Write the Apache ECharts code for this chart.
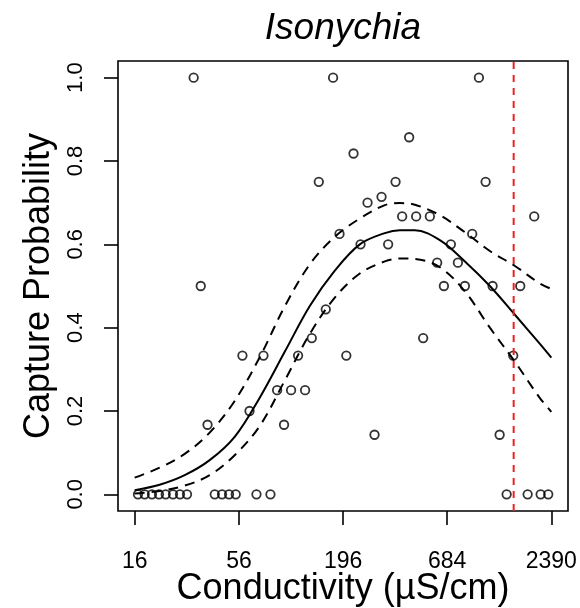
<!DOCTYPE html>
<html><head><meta charset="utf-8">
<script src="https://cdn.jsdelivr.net/npm/echarts@6/dist/echarts.min.js"></script>
<style>html,body{margin:0;padding:0;background:#fff}#c{width:580px;height:608px}</style>
</head><body><div id="c"></div>
<script>
// ---- data ----
const chartTitle = 'Isonychia';
const xAxisTitle = 'Conductivity (µS/cm)';
const yAxisTitle = 'Capture Probability';
const xTickLabels = [16, 56, 196, 684, 2390];
const yTickValues = [0, 0.2, 0.4, 0.6, 0.8, 1.0];

// observed capture probabilities (conductivity in µS/cm)
const pointCond = [16.65, 18.05, 19.7, 21.43, 23.23, 25.36, 27.58, 30.01, 41.88, 45.71, 49.72, 53.89, 69.13, 81.78, 1397, 1798, 2102, 2303,
  32.5, 35.4, 38.4, 58.4, 63.6, 75.2, 88.6, 96.3, 104.8, 114.0, 124.0, 134.4, 146.2, 159.0, 173.6, 187.5, 203.5, 221.9, 241.4, 262.6, 285.6,
  310.7, 336.4, 367.7, 398.1, 433.0, 471.0, 512.4, 555.3, 606.3, 657.3, 714.9, 777.7, 845.9, 923.7, 1001, 1085, 1180, 1284, 1512, 1645, 1946];
const pointProb = [0, 0, 0, 0, 0, 0, 0, 0, 0, 0, 0, 0, 0, 0, 0, 0, 0, 0,
  1.0, 0.5, 0.167, 0.333, 0.2, 0.333, 0.25, 0.167, 0.25, 0.333, 0.25, 0.375, 0.75, 0.444, 1.0, 0.625, 0.333, 0.818, 0.6, 0.7, 0.143,
  0.714, 0.6, 0.75, 0.667, 0.857, 0.667, 0.375, 0.667, 0.556, 0.5, 0.6, 0.556, 0.5, 0.625, 1.0, 0.75, 0.5, 0.143, 0.333, 0.5, 0.667];

// fitted curve and confidence band
const curveCond = [16, 21.6, 29.2, 39.4, 53.2, 71.9, 97.1, 131.2, 177.2, 239.3, 323.2, 387.1, 463.7, 626.2, 845.9, 1142, 1543, 2084, 2390];
const fitProb   = [0.010, 0.023, 0.046, 0.082, 0.138, 0.232, 0.342, 0.452, 0.537, 0.600, 0.627, 0.634, 0.634, 0.610, 0.559, 0.500, 0.431, 0.361, 0.328];
const upperProb = [0.040, 0.064, 0.097, 0.148, 0.224, 0.329, 0.451, 0.552, 0.618, 0.662, 0.694, 0.699, 0.695, 0.670, 0.629, 0.584, 0.548, 0.506, 0.493];
const lowerProb = [0.002, 0.008, 0.021, 0.046, 0.094, 0.164, 0.273, 0.385, 0.472, 0.530, 0.559, 0.566, 0.565, 0.545, 0.487, 0.400, 0.318, 0.231, 0.198];
const thresholdCond = 1520;

// ---- chart ----
const L = v => Math.log10(v);
const xLo = L(xTickLabels[0]), xHi = L(xTickLabels[xTickLabels.length - 1]);
const xPad = 0.04 * (xHi - xLo);
const xMin = xLo - xPad, xMax = xHi + xPad;
const yMin = -0.04, yMax = 1.04;
const FONT = '"Liberation Sans", Arial, Helvetica, sans-serif';

const pts = pointCond.map((c, i) => [L(c), pointProb[i]]);
const mk = arr => curveCond.map((c, i) => [L(c), arr[i]]);

const chart = echarts.init(document.getElementById('c'), null, {renderer: 'canvas'});
chart.setOption({
  animation: false,
  backgroundColor: '#fff',
  textStyle: {fontFamily: FONT, color: '#000'},
  title: {
    text: chartTitle, left: 343, top: 10, textAlign: 'center', padding: 0,
    textStyle: {fontFamily: FONT, fontSize: 37, fontStyle: 'italic', fontWeight: 'normal', color: '#000'}
  },
  grid: {left: 118, right: 12, top: 61, bottom: 97, containLabel: false, outerBoundsMode: 'none',
    show: true, borderColor: '#000', borderWidth: 1.6, backgroundColor: 'transparent'},
  xAxis: {
    type: 'value', min: xMin, max: xMax,
    name: xAxisTitle, nameLocation: 'middle', nameGap: 60, nameMoveOverlap: false,
    nameTextStyle: {fontFamily: FONT, fontSize: 36, color: '#000'},
    axisLine: {show: false, onZero: false},
    splitLine: {show: false},
    axisTick: {show: true, inside: false, length: 14, lineStyle: {color: '#000', width: 1.6}, customValues: xTickLabels.map(L)},
    axisLabel: {show: true, margin: 39, fontSize: 23, color: '#000', fontFamily: FONT,
      customValues: xTickLabels.map(L),
      formatter: v => String(Math.round(Math.pow(10, v)))}
  },
  yAxis: {
    type: 'value', min: yMin, max: yMax,
    name: yAxisTitle, nameLocation: 'middle', nameGap: 58, nameRotate: 90,
    nameTextStyle: {fontFamily: FONT, fontSize: 36, color: '#000'},
    axisLine: {show: false, onZero: false},
    splitLine: {show: false},
    axisTick: {show: true, inside: false, length: 14, lineStyle: {color: '#000', width: 1.6}, customValues: yTickValues},
    axisLabel: {show: true, margin: 31, fontSize: 22, color: '#000', fontFamily: FONT, rotate: 90,
      customValues: yTickValues,
      formatter: v => v.toFixed(1)}
  },
  series: [
    {type: 'scatter', data: pts, symbol: 'circle', symbolSize: 8.5, z: 3,
      itemStyle: {color: 'transparent', borderColor: '#000', borderWidth: 1.8}},
    {type: 'line', data: mk(fitProb), showSymbol: false, smooth: 0.35, z: 4,
      lineStyle: {color: '#000', width: 2}},
    {type: 'line', data: mk(upperProb), showSymbol: false, smooth: 0.35, z: 4,
      lineStyle: {color: '#000', width: 2, type: [10, 7]}},
    {type: 'line', data: mk(lowerProb), showSymbol: false, smooth: 0.35, z: 4,
      lineStyle: {color: '#000', width: 2, type: [10, 7]}},
    {type: 'line', data: [[L(thresholdCond), yMin], [L(thresholdCond), yMax]], showSymbol: false, z: 5,
      lineStyle: {color: '#ee2020', width: 2, type: [7, 6]}}
  ]
});
</script>
</body></html>
